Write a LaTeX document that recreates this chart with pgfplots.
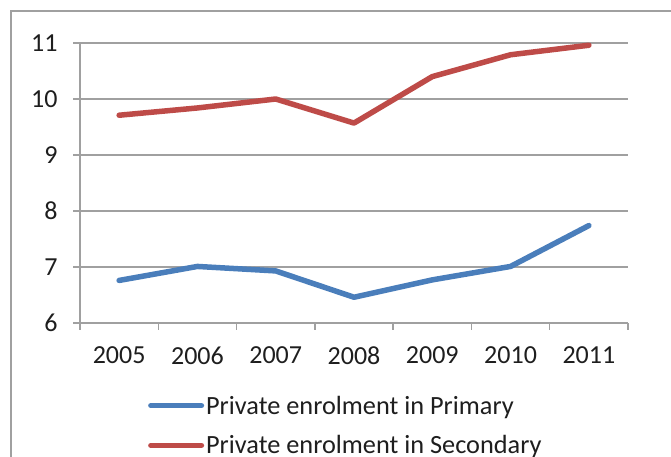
\documentclass[border=0pt]{standalone}
\usepackage{pgfplots}
\pgfplotsset{compat=1.18}
\usepackage{fontspec}
\setmainfont{Carlito}

\definecolor{framegray}{HTML}{A0A0A0}
\definecolor{priblue}{HTML}{4A7EBB}
\definecolor{secred}{HTML}{BE4B48}
\definecolor{labelblack}{HTML}{1E1E1E}

\begin{document}
\begin{tikzpicture}[x=1pt,y=1pt]
\useasboundingbox (0,0) rectangle (671,457);
% chart area frame
\draw[framegray, line width=1.6pt] (11,-5) -- (11,446) -- (680,446);
\begin{axis}[
  at={(80pt,134pt)}, anchor=south west,
  scale only axis, width=548pt, height=280pt,
  xmin=-0.5, xmax=6.5, ymin=6, ymax=11,
  axis lines*=left,
  axis line style={framegray, line width=1.5pt},
  ytick={6,7,8,9,10,11},
  xtick={-0.5,0.5,1.5,2.5,3.5,4.5,5.5,6.5}, xticklabels={},
  extra x ticks={0,1,2,3,4,5,6},
  extra x tick labels={2005,2006,2007,2008,2009,2010,2011},
  extra x tick style={major tick length=0pt, grid=none,
    xticklabel style={yshift=-20pt}},
  tick align=outside, major tick length=7pt,
  tick style={framegray, line width=1.5pt},
  ymajorgrids, grid style={framegray, line width=1.5pt},
  ticklabel style={font=\fontsize{26}{30}\selectfont, text=labelblack},
  yticklabel style={xshift=-12pt},
  /pgf/number format/assume math mode=true,
  legend style={at={(0.124,-0.252)}, anchor=north west, draw=none, fill=none,
    font=\fontsize{26.3}{30}\selectfont, text=labelblack,
    inner sep=0pt, column sep=0pt, row sep=16pt,
    nodes={inner sep=2pt, anchor=west}},
  legend cell align=left,
  legend image code/.code={\draw[#1] (2.75pt,0pt) -- (53.25pt,0pt);},
  every axis plot/.append style={line width=5.5pt, line join=round, line cap=round},
  clip=false,
]
\addplot[priblue] coordinates {
  (0,6.76) (1,7.01) (2,6.93) (3,6.46) (4,6.77) (5,7.01) (6,7.74)
};
\addlegendentry{Private enrolment in Primary}
\addplot[secred] coordinates {
  (0,9.71) (1,9.84) (2,10.00) (3,9.57) (4,10.40) (5,10.79) (6,10.96)
};
\addlegendentry{Private enrolment in Secondary}
\end{axis}
\end{tikzpicture}
\end{document}
